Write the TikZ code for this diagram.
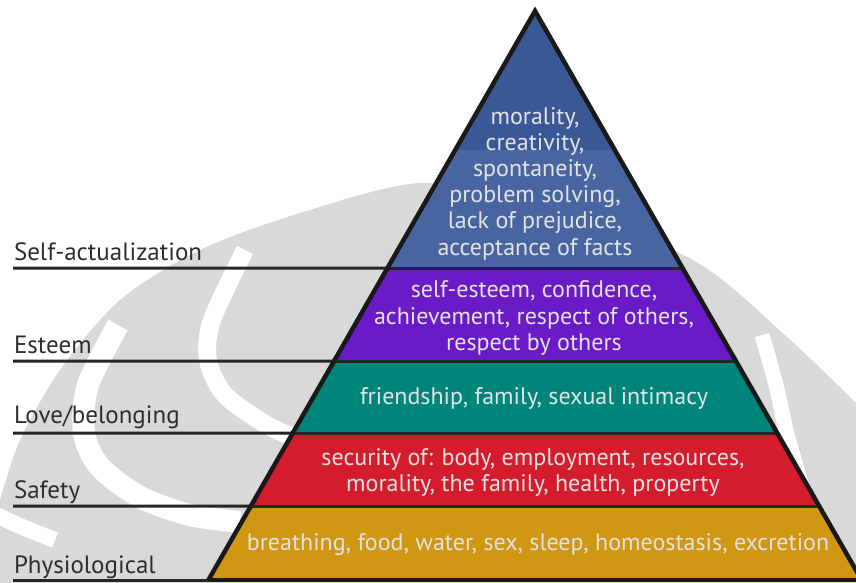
\documentclass[tikz,border=0pt]{standalone}
\usepackage{fontspec}
\setmainfont{PT Sans}
\usepackage{xcolor}
\usetikzlibrary{calc}
\definecolor{lvlblue}{HTML}{3B5896}
\definecolor{lvlbluelt}{HTML}{4865A2}
\definecolor{lvlpurple}{HTML}{6A1AC6}
\definecolor{lvlteal}{HTML}{00857B}
\definecolor{lvlred}{HTML}{D51C2C}
\definecolor{lvlgold}{HTML}{CF9712}
\definecolor{needtxt}{HTML}{E3E3E3}
\definecolor{lblgray}{HTML}{2E2E2E}
\definecolor{rulegray}{HTML}{262626}
\definecolor{wmgray}{HTML}{D9D9D9}

\begin{document}
\begin{tikzpicture}[
  x=1pt, y=-1pt,
  every node/.style={inner sep=0pt, outer sep=0pt},
  lvl/.style ={font=\fontsize{25}{27}\selectfont, text=lblgray, anchor=base west},
  need/.style={font=\fontsize{24}{26.2}\selectfont, text=needtxt, align=center},
  rule/.style={line width=3pt, draw=rulegray},
  sep/.style ={line width=3pt, draw=rulegray},
  edge/.style={line width=4.5pt, draw=black!90, line join=miter},
  wmband/.style={line width=18pt, draw=white, line cap=butt}
]
\useasboundingbox (0,0) rectangle (856,582);

%% ─── watermark behind everything ───────────────────────────────────────────
\begin{scope}
  \clip (0,0) rectangle (856,582);
  \fill[wmgray] (0,600) -- plot[smooth] coordinates {(0,500) (20,440) (60,370)
    (120,300) (200,250) (300,213) (420,183) (540,200) (693,260) (787,337)
    (856,403)} -- (856,600) -- cycle;
  \draw[wmband] plot[smooth] coordinates {(245,250) (212,320) (208,360)
    (225,395) (267,425) (300,440)};
  \draw[wmband, line width=22pt] plot[smooth] coordinates {(118,325) (88,385)
    (84,433) (100,467) (140,497) (190,515) (240,522)};
  \draw[wmband, line width=16pt] plot[smooth] coordinates {(-10,512) (20,526) (55,540)};
  \draw[wmband, line width=15pt] plot[smooth] coordinates {(762,335) (776,385)
    (786,430) (800,480) (815,530)};
\end{scope}

%% ─── pyramid corners and level heights ─────────────────────────────────────
\coordinate (apex) at (535,11);
\coordinate (bl)   at (208.4,580);
\coordinate (br)   at (861.6,580);

\foreach \n/\y in {1/268, 2/361, 3/433, 4/506, 5/580}{
  \coordinate (l\n) at ($(apex)!{(\y-11)/569}!(bl)$);
  \coordinate (r\n) at ($(apex)!{(\y-11)/569}!(br)$);
  \coordinate (t\n) at (13,\y);
}

%% ─── colour bands ──────────────────────────────────────────────────────────
\begin{scope}
  \clip (apex) -- (bl) -- (br) -- cycle;
  \fill[lvlblue]   (200,0)   rectangle (870,150);
  \fill[lvlbluelt] (200,150) rectangle (870,268);
  \fill[lvlpurple] (200,268) rectangle (870,361);
  \fill[lvlteal]   (200,361) rectangle (870,433);
  \fill[lvlred]    (200,433) rectangle (870,506);
  \fill[lvlgold]   (200,506) rectangle (870,590);
\end{scope}

\foreach \n in {1,...,4}
  \draw[sep] (l\n) -- (r\n);
\foreach \n in {1,...,5}
  \draw[rule] (t\n) -- (l\n);
\draw[edge] (bl) -- (apex) -- (br);
\draw[edge] (bl) -- (br);

%% ─── level names ───────────────────────────────────────────────────────────
\node[lvl] (sa_lbl) at (14,260) {Self-actualization};
\node[lvl] (es_lbl) at (14,353) {Esteem};
\node[lvl] (lb_lbl) at (14,423) {Love/belonging};
\node[lvl] (sf_lbl) at (14,498) {Safety};
\node[lvl] (ph_lbl) at (14,573) {Physiological};

%% ─── needs inside the bands ────────────────────────────────────────────────
\node[need] (sa_txt) at (535,183.5) {morality,\\creativity,\\spontaneity,\\problem solving,\\lack of prejudice,\\acceptance of facts};
\node[need] (es_txt) at (534,318)   {self-esteem, confidence,\\achievement, respect of others,\\respect by others};
\node[need] (lb_txt) at (534,398)   {friendship, family, sexual intimacy};
\node[need] (sf_txt) at (533,472.5) {security of: body, employment, resources,\\morality, the family, health, property};
\node[need] (ph_txt) at (538,545)   {breathing, food, water, sex, sleep, homeostasis, excretion};

\end{tikzpicture}
\end{document}
